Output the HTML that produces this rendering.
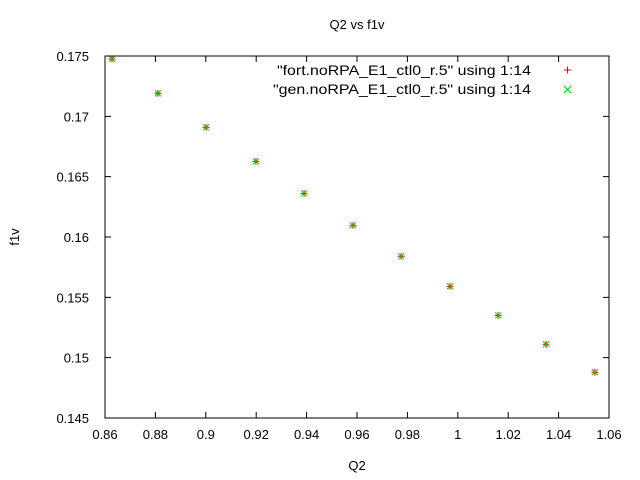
<!DOCTYPE html>
<html><head><meta charset="utf-8"><style>
body{margin:0;background:#fff}
svg{display:block;font-family:"Liberation Sans",sans-serif;font-size:13px}
</style></head><body>
<svg id="chart" width="640" height="480">
<text x="357" y="29" text-anchor="middle">Q2 vs f1v</text>
<text x="357" y="470" text-anchor="middle">Q2</text>
<text x="19" y="237" text-anchor="middle" transform="rotate(-90 19 237)">f1v</text>
<g id="axes"></g>
<g id="marks"></g>
<g>
<text x="277" y="75" font-size="14" textLength="254" lengthAdjust="spacingAndGlyphs">"fort.noRPA_E1_ctl0_r.5" using 1:14</text>
<path d="M564 70h7M567.5 66.5v7" stroke="#f00"/>
<text x="273" y="94" font-size="14" textLength="258" lengthAdjust="spacingAndGlyphs">"gen.noRPA_E1_ctl0_r.5" using 1:14</text>
<path d="M564 86l7 7M571 86l-7 7" stroke="#0c0"/>
</g>
<rect x="105" y="56" width="504" height="362" fill="none" stroke="#000"/>
</svg>
<script>
const xTicks=[0.86,0.88,0.9,0.92,0.94,0.96,0.98,1,1.02,1.04,1.06];
const xTickLabels=["0.86","0.88","0.9","0.92","0.94","0.96","0.98","1","1.02","1.04","1.06"];
const yTicks=[0.145,0.15,0.155,0.16,0.165,0.17,0.175];
const yTickLabels=["0.145","0.15","0.155","0.16","0.165","0.17","0.175"];
const q2=[0.8628,0.8810,0.9001,0.9199,0.9390,0.9584,0.9775,0.9969,1.0160,1.0350,1.0544];
const fortF1v=[0.17475,0.1719,0.16909,0.16627,0.16362,0.16097,0.1584,0.15591,0.15351,0.15111,0.14879];
const genF1v=[0.17475,0.1719,0.16909,0.16627,0.16362,0.16097,0.1584,0.15591,0.15351,0.15111,0.14879];
const L=105,R=609,T=56,B=418;
const sx=v=>L+(v-0.86)/(1.06-0.86)*(R-L);
const sy=v=>B-(v-0.145)/(0.175-0.145)*(B-T);
const NS="http://www.w3.org/2000/svg";
const axes=document.getElementById('axes'),marks=document.getElementById('marks');
function mk(tag,attrs,parent){const e=document.createElementNS(NS,tag);for(const k in attrs)e.setAttribute(k,attrs[k]);parent.appendChild(e);return e;}
xTicks.forEach((v,i)=>{const x=sx(v);
 const t=mk('path',{d:`M${x} ${B}v-6M${x} ${T}v6`,stroke:'#000'},axes);
 
 
 const l=mk('text',{x:x,y:B+21,'text-anchor':'middle'},axes);l.textContent=xTickLabels[i];
 
 
});
yTicks.forEach((v,i)=>{const y=sy(v);
 const t=mk('path',{d:`M${L} ${y}h6M${R} ${y}h-6`,stroke:'#000'},axes);
 
 
 const l=mk('text',{x:L-16,y:y+5,'text-anchor':'end'},axes);l.textContent=yTickLabels[i];
 
 
});
q2.forEach((q,i)=>{const x=sx(q),y=sy(fortF1v[i]);
 const p=mk('path',{d:`M${x-3.5} ${y}h7M${x} ${y-3.5}v7`,stroke:'#f00'},marks);
 
 
});
q2.forEach((q,i)=>{const x=sx(q),y=sy(genF1v[i]);
 const p=mk('path',{d:`M${x-3} ${y-3}l6 6M${x+3} ${y-3}l-6 6`,stroke:'#0c0'},marks);
 
 
});
</script>
</body></html>
